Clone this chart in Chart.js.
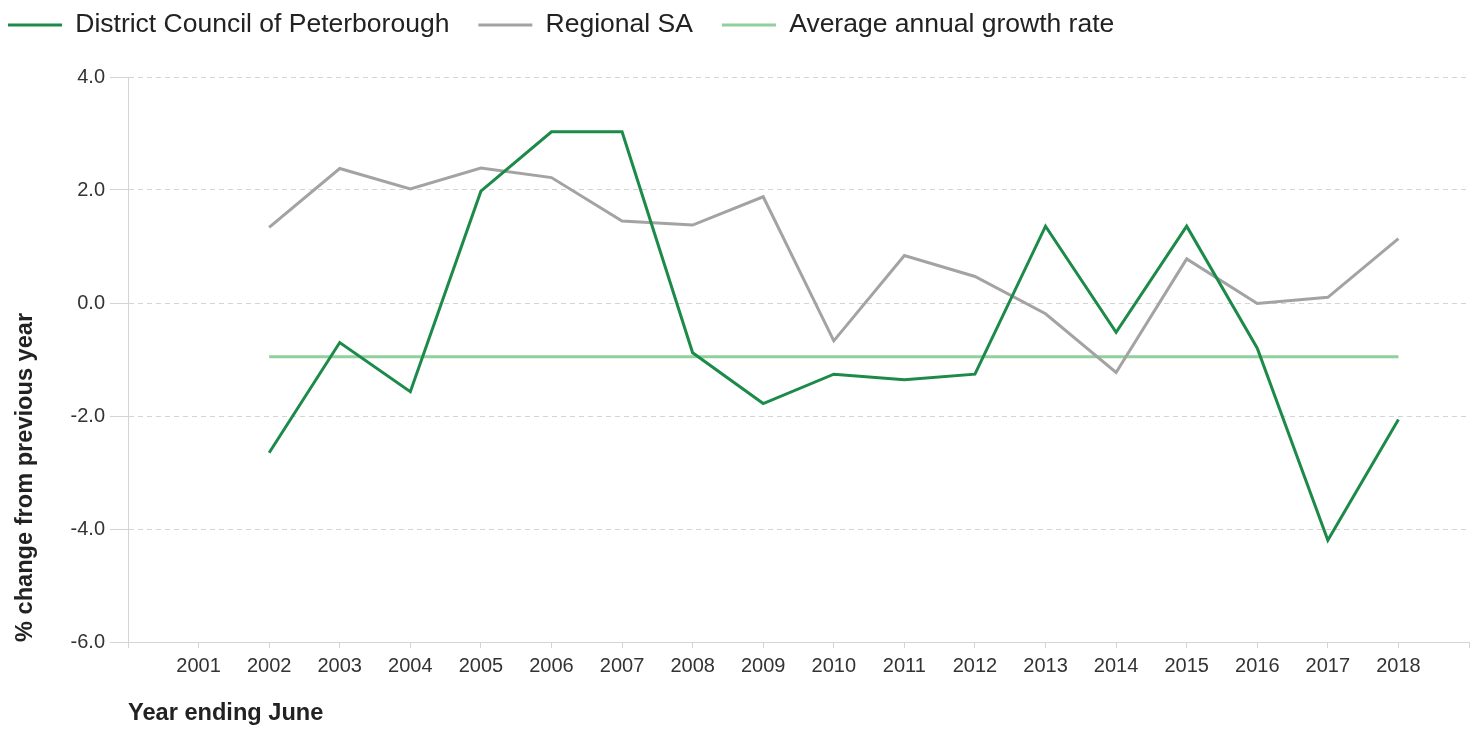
<!DOCTYPE html>
<html>
<head>
<meta charset="utf-8">
<script src="https://cdn.jsdelivr.net/npm/chart.js@4.4.0/dist/chart.umd.min.js"></script>
<style>
  body { margin: 0; background: #fff; }
  #wrap { width: 1479px; height: 729px; position: relative; }
</style>
</head>
<body>
<div id="wrap"><canvas id="popChart"></canvas></div>
<script>
// Population change, year ending June
const years = [2001, 2002, 2003, 2004, 2005, 2006, 2007, 2008, 2009, 2010, 2011, 2012, 2013, 2014, 2015, 2016, 2017, 2018];
const peterborough = [null, -2.65, -0.70, -1.57, 1.98, 3.03, 3.03, -0.88, -1.78, -1.26, -1.36, -1.26, 1.36, -0.52, 1.36, -0.80, -4.20, -2.06];
const regionalSA = [null, 1.34, 2.38, 2.02, 2.39, 2.22, 1.45, 1.38, 1.88, -0.67, 0.84, 0.47, -0.19, -1.23, 0.78, -0.01, 0.10, 1.14];
const avgGrowth = [null, -0.95, -0.95, -0.95, -0.95, -0.95, -0.95, -0.95, -0.95, -0.95, -0.95, -0.95, -0.95, -0.95, -0.95, -0.95, -0.95, -0.95];
const yTicks = [-6, -4, -2, 0, 2, 4];

const FONT = "'Liberation Sans', Arial, sans-serif";
const GRID = '#d4d4d4';
const LEGEND_SIZE = 26.5;

function points(values) {
    return years.map((y, i) => ({ x: y, y: values[i] }));
}

function lineSet(label, values, color) {
    return {
        label: label,
        data: points(values),
        borderColor: color,
        backgroundColor: color,
        borderWidth: 3,
        pointRadius: 0,
        pointHoverRadius: 0,
        tension: 0,
        fill: false,
        spanGaps: false
    };
}

// legend sits tight in the top-left corner, items spaced wide apart
const legendPlacement = {
    id: 'legendPlacement',
    beforeInit(chart) {
        const fit = chart.legend.fit;
        chart.legend.fit = function () {
            fit.bind(chart.legend)();
            this.height = 77;
        };
    },
    afterLayout(chart) {
        const lg = chart.legend;
        const pad = lg.options.labels.padding;
        lg.left = 8 - pad;
        lg.top = 25 - LEGEND_SIZE / 2 - pad;
    }
};

new Chart(document.getElementById('popChart'), {
    type: 'line',
    data: {
        datasets: [
            lineSet('District Council of Peterborough', peterborough, '#1c8a48'),
            lineSet('Regional SA', regionalSA, '#a3a3a3'),
            lineSet('Average annual growth rate', avgGrowth, '#8fd09c')
        ]
    },
    options: {
        responsive: true,
        maintainAspectRatio: false,
        animation: false,
        layout: { padding: { top: 0, right: 10, bottom: 0, left: 0 } },
        plugins: {
            legend: {
                display: true,
                position: 'top',
                align: 'start',
                labels: {
                    boxWidth: 54,
                    boxHeight: 0,
                    padding: 29,
                    color: '#222',
                    font: { family: FONT, size: LEGEND_SIZE }
                }
            },
            tooltip: { enabled: false }
        },
        scales: {
            x: {
                type: 'linear',
                min: 2000,
                max: 2019,
                afterFit: (scale) => { scale.height = 87; },
                afterBuildTicks: (scale) => {
                    scale.ticks = [2000].concat(years, [2019]).map(v => ({ value: v }));
                },
                ticks: {
                    autoSkip: false,
                    maxRotation: 0,
                    padding: 6,
                    color: '#333',
                    font: { family: FONT, size: 20 },
                    callback: (v) => years.includes(v) ? String(v) : ''
                },
                grid: {
                    drawOnChartArea: false,
                    drawTicks: true,
                    tickLength: 6,
                    color: GRID
                },
                border: { display: true, color: GRID, width: 1 },
                title: {
                    display: true,
                    text: 'Year ending June',
                    align: 'start',
                    color: '#222',
                    font: { family: FONT, size: 23.6, weight: 'bold' },
                    padding: { top: 0, bottom: 1 }
                }
            },
            y: {
                min: -6,
                max: 4,
                afterFit: (scale) => { scale.width = 128; },
                afterBuildTicks: (scale) => {
                    scale.ticks = yTicks.map(v => ({ value: v }));
                },
                ticks: {
                    padding: 5,
                    color: '#333',
                    font: { family: FONT, size: 20 },
                    callback: (v) => v.toFixed(1)
                },
                grid: {
                    color: GRID,
                    tickLength: 18,
                    drawTicks: true
                },
                border: { display: true, color: GRID, width: 1, dash: [5, 4] },
                title: {
                    display: true,
                    text: '% change from previous year',
                    align: 'start',
                    color: '#222',
                    font: { family: FONT, size: 23.6, weight: 'bold' },
                    padding: { top: 11, bottom: 0 }
                }
            }
        }
    },
    plugins: [legendPlacement]
});
</script>
</body>
</html>
